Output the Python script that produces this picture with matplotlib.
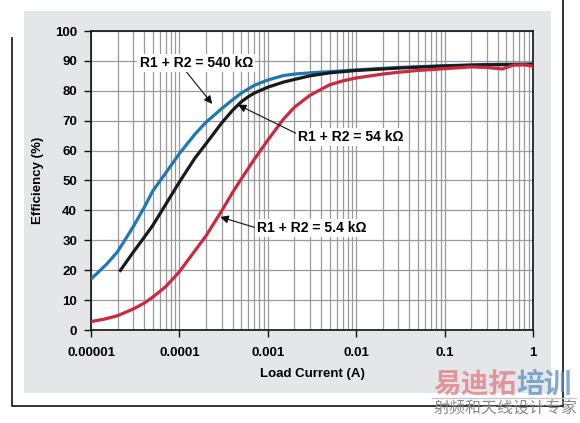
import matplotlib
matplotlib.use("Agg")
import matplotlib.pyplot as plt
from matplotlib.patches import Rectangle
from matplotlib.lines import Line2D
from matplotlib.ticker import LogLocator, FixedLocator, NullFormatter

# ---- data ----
x_blue = [1e-5, 1.5e-5, 2e-5, 3e-5, 4e-5, 5e-5, 7e-5, 1e-4, 1.5e-4, 2e-4, 3e-4, 4e-4, 5e-4,
          7e-4, 1e-3, 1.5e-3, 2e-3, 3e-3, 5e-3, 1e-2, 3e-2, 0.1, 0.3, 1]
eff_blue = [17, 22, 26.2, 34.5, 41, 46.5, 52.5, 59, 65.5, 69.5, 74, 77, 79.2,
            81.8, 83.6, 85.1, 85.6, 86, 86.4, 87, 87.8, 88.4, 88.8, 89]

x_black = [2.1e-5, 3e-5, 4e-5, 5e-5, 7e-5, 1e-4, 1.5e-4, 2e-4, 3e-4, 4e-4, 5e-4, 6e-4, 7e-4,
           1e-3, 1.5e-3, 2e-3, 3e-3, 5e-3, 1e-2, 3e-2, 0.1, 0.3, 1]
eff_black = [19.5, 26, 31, 35, 42, 49.5, 57.5, 62.3, 69.2, 73.5, 76.3, 78, 79.2,
             81.2, 82.9, 83.8, 85, 86, 86.8, 87.6, 88.3, 88.7, 88.8]

x_red = [1e-5, 1.5e-5, 2e-5, 3e-5, 4e-5, 5e-5, 7e-5, 1e-4, 1.5e-4, 2e-4, 3e-4, 4e-4, 5e-4,
         7e-4, 1e-3, 1.5e-3, 2e-3, 3e-3, 5e-3, 7e-3, 1e-2, 2e-2, 3e-2, 5e-2,
         0.1, 0.2, 0.3, 0.45, 0.6, 0.8, 1]
eff_red = [2.8, 3.8, 4.8, 7, 9, 11, 14.5, 19.5, 26.5, 31.5, 39.8, 46, 50.5,
           57, 63.5, 70.5, 74.5, 78.5, 82, 83.3, 84.3, 85.6, 86.2, 86.8,
           87.4, 88, 87.8, 87.3, 88.6, 88.7, 88.2]

x_ticks = [1e-5, 1e-4, 1e-3, 1e-2, 1e-1, 1]
x_ticklabels = ["0.00001", "0.0001", "0.001", "0.01", "0.1", "1"]
y_ticks = [0, 10, 20, 30, 40, 50, 60, 70, 80, 90, 100]

labels = ["R1 + R2 = 540 k\u03a9", "R1 + R2 = 54 k\u03a9", "R1 + R2 = 5.4 k\u03a9"]
colors = ["#1f78b0", "#1a1a1a", "#c92a40"]

W, H = 580, 423
fig = plt.figure(figsize=(W / 100, H / 100), dpi=100)
fig.patch.set_facecolor("white")

# gray panel
fig.patches.append(Rectangle((24 / W, 1 - 393 / H), (551 - 24) / W, (393 - 11) / H,
                             transform=fig.transFigure, facecolor="#e5e6e8",
                             edgecolor="none", zorder=0))
# frame lines
fc = "#222222"
fig.lines.append(Line2D([12 / W, 12 / W, 563 / W, 563 / W],
                        [1 - 38 / H, 1 - 406 / H, 1 - 406 / H, 1.0],
                        transform=fig.transFigure, color=fc, lw=1.3, zorder=1))

ax = fig.add_axes([91 / W, 1 - 330 / H, (533 - 91) / W, (330 - 31) / H])
ax.set_zorder(3)
ax.set_facecolor("white")
ax.set_xscale("log")
ax.set_xlim(1e-5, 1)
ax.set_ylim(0, 100)

for xs, ys, c in [(x_blue, eff_blue, colors[0]), (x_black, eff_black, colors[1]),
                  (x_red, eff_red, colors[2])]:
    ax.plot(xs, ys, color=c, lw=2.3, zorder=4, solid_capstyle="butt", solid_joinstyle="round")

ax.xaxis.set_major_locator(FixedLocator(x_ticks))
ax.set_xticklabels(x_ticklabels)
ax.xaxis.set_minor_locator(LogLocator(base=10, subs=range(2, 10), numticks=20))
ax.xaxis.set_minor_formatter(NullFormatter())
ax.set_yticks(y_ticks)

ax.grid(True, which="both", axis="x", color="#9a9a9a", lw=0.9)
ax.grid(True, which="major", axis="y", color="#9a9a9a", lw=0.9)
ax.set_axisbelow(True)

for s in ax.spines.values():
    s.set_color("#111111")
    s.set_linewidth(1.2)

font = "Liberation Sans"
ax.tick_params(axis="both", which="major", direction="out", length=5, width=1.0,
               color="#111111", labelsize=9.5)
ax.tick_params(axis="x", which="minor", length=0)
ax.tick_params(axis="y", pad=5)
ax.tick_params(axis="x", pad=7)
for lab in ax.get_xticklabels() + ax.get_yticklabels():
    lab.set_fontfamily(font)
    lab.set_fontweight("bold")

ax.set_xlabel("Load Current (A)", fontsize=9.5, fontweight="bold", family=font, labelpad=7)
ax.set_ylabel("Efficiency (%)", fontsize=9.5, fontweight="bold", family=font, labelpad=8)

bbox = dict(facecolor="white", edgecolor="none", pad=1.5)
arrow = dict(arrowstyle="-|>", color="#111111", lw=0.8, mutation_scale=12, shrinkA=0, shrinkB=0)

# annotation positions in data coordinates
ax.annotate(labels[0], xy=(2.35e-4, 75.6), xytext=(1.55e-4, 89.3),
            fontsize=10, fontweight="bold", family=font, ha="center", va="center",
            bbox=bbox, arrowprops=dict(arrow, relpos=(0.4, 0.0)), zorder=6)
ax.annotate(labels[1], xy=(4.6e-4, 75.3), xytext=(2.2e-3, 64.5),
            fontsize=10, fontweight="bold", family=font, ha="left", va="center",
            bbox=bbox, arrowprops=dict(arrow, relpos=(0.0, 0.7)), zorder=6)
ax.annotate(labels[2], xy=(2.9e-4, 37.8), xytext=(7.5e-4, 34.1),
            fontsize=10, fontweight="bold", family=font, ha="left", va="center",
            bbox=bbox, arrowprops=dict(arrow, relpos=(0.0, 0.5)), zorder=6)

# watermark
cjk = ["Noto Sans CJK SC", "DejaVu Sans"]
fig.text(433 / W, 1 - 385 / H, "易迪拓", fontsize=20, fontweight="bold", family=cjk,
         color="#e07a82", alpha=0.75, ha="left", va="center", zorder=10)
fig.text(516 / W, 1 - 385 / H, "培训", fontsize=20, fontweight="bold", family=cjk,
         color="#5b8fc4", alpha=0.75, ha="left", va="center", zorder=10)
fig.lines.append(Line2D([432 / W, 576 / W], [1 - 398 / H, 1 - 398 / H],
                        transform=fig.transFigure, color="#c8c8c8", lw=1.0, zorder=9))
fig.text(577 / W, 1 - 409 / H, "射频和天线设计专家", fontsize=11.5, family=cjk,
         color="#8a8a8a", ha="right", va="center", zorder=10)

fig.savefig("out.png", dpi=100)
